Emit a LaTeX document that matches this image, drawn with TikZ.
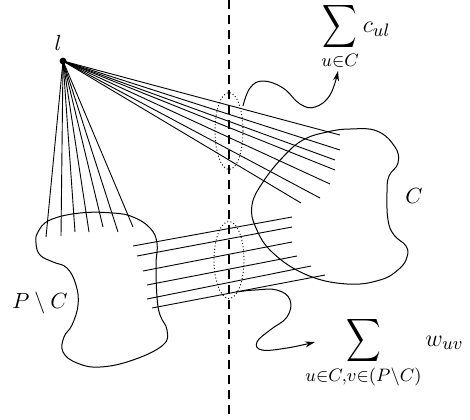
\documentclass[tikz,border=0pt]{standalone}
\usepackage{amsmath}
\usepackage{graphicx}
\usetikzlibrary{shapes.geometric,arrows.meta}
\newcommand{\tallsum}{\mathop{\vcenter{\hbox{\scalebox{1}[1.25]{$\displaystyle\sum$}}}}\limits}
\begin{document}
\begin{tikzpicture}[x=0.5pt,y=-0.5pt,
  fanline/.style={line width=0.45pt},
  cutline/.style={line width=1.45pt, dash pattern=on 4.5pt off 3pt},
  cutellipse/.style={draw, ellipse, dash pattern=on 0.5pt off 1.1pt, line width=0.45pt, inner sep=0pt},
  blob/.style={line width=0.5pt},
  wavy/.style={line width=0.5pt, -{Stealth[length=5pt,width=3pt]}},
  dot/.style={circle, fill, inner sep=0pt, minimum size=3.4pt},
  lab/.style={font=\fontsize{11}{13}\selectfont},
  sumlab/.style={font=\fontsize{12.5}{15}\selectfont, inner sep=0pt}
]
\useasboundingbox (0,0) rectangle (470,419);

% vertical cut
\coordinate (ctop) at (229,0);
\coordinate (cbot) at (229,419);

% point l
\node[dot] (l) at (63,61) {};
\node[lab] (llab) at (58,43) {$l$};

% fan to the right
\foreach \i/\x/\y in {1/340/135, 2/340/150, 3/335/160, 4/335/170, 5/330/184, 6/320/198, 7/301/203}{
  \coordinate (r\i) at (\x,\y);
  \draw[fanline] (l.center) -- (r\i);
}
% fan downwards
\foreach \i/\x/\y in {1/46/237, 2/61/236, 3/75/232, 4/89/232, 5/103/227, 6/118/232, 7/133/227}{
  \coordinate (d\i) at (\x,\y);
  \draw[fanline] (l.center) -- (d\i);
}
% parallel edges between P\C and C
\foreach \i/\xa/\ya/\xb/\yb in {1/133/246/292/217, 2/137/256/292/227, 3/143/271/292/242, 4/147/285/297/256, 5/147/299/311/266, 6/152/308/325/275}{
  \coordinate (pa\i) at (\xa,\ya);
  \coordinate (pb\i) at (\xb,\yb);
  \draw[fanline] (pa\i) -- (pb\i);
}

% blob C
\draw[blob] plot[smooth cycle, tension=0.7] coordinates {
  (263,182) (283,157) (303,140) (327,132) (350,129) (377,131) (395,147) (398,163)
  (389,176) (387,192) (388,220) (394,235) (406,246) (407,257) (399,269) (380,280)
  (347,284) (307,275) (273,253) (256,228) (252,205)};
\node[lab] (Clab) at (414,196) {$C$};

% blob P\C
\draw[blob] plot[smooth cycle, tension=0.7] coordinates {
  (38,232) (50,220) (80,213) (113,213) (133,217) (150,228) (157,243) (156,265)
  (157,297) (160,315) (167,330) (163,345) (133,360) (100,367) (77,363) (63,352)
  (64,337) (72,325) (78,305) (76,285) (67,268) (53,262) (40,255) (36,243)};
\node[lab] (PClab) at (40,303) {$P\setminus C$};

% cut line
\draw[cutline] (ctop) -- (cbot);

% dotted ellipses
\node[cutellipse, minimum width=14pt, minimum height=38.5pt] (e1) at (229,131) {};
\node[cutellipse, minimum width=15pt, minimum height=38.5pt] (e2) at (229,260) {};

% sums
\node[sumlab, anchor=base west] (s1) at (321,32) {$\tallsum_{u\in C} c_{ul}$};
\node[sumlab, anchor=base west] (s2) at (305,346) {$\tallsum_{u\in C,v\in(P\setminus C)} w_{uv}$};

% wavy arrows
\coordinate (w1a) at (243,106);
\coordinate (w1b) at (338,71);
\draw[wavy] plot[smooth, tension=0.7] coordinates {(w1a) (250,88) (263,81) (283,88) (300,104) (315,107) (330,95) (w1b)};
\coordinate (w2a) at (236,292);
\coordinate (w2b) at (315,342);
\draw[wavy] plot[smooth, tension=0.7] coordinates {(w2a) (255,290) (277,290) (290,300) (287,317) (270,330) (257,342) (262,350) (287,348) (w2b)};
\end{tikzpicture}
\end{document}
